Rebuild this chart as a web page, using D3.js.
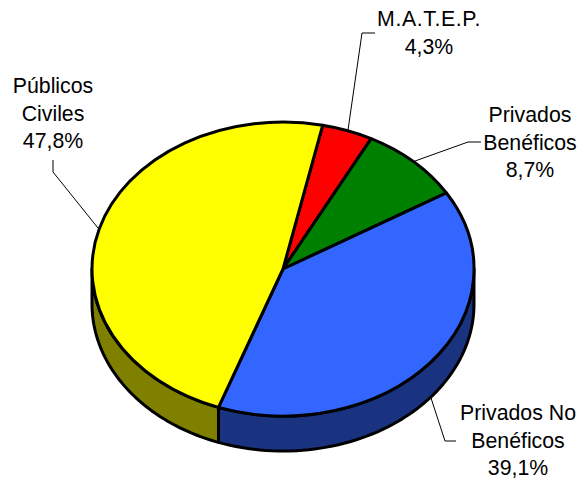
<!DOCTYPE html>
<html><head><meta charset="utf-8">
<script src="https://cdn.jsdelivr.net/npm/d3@7/dist/d3.min.js"></script>
<style>html,body{margin:0;padding:0;background:#fff}svg{display:block}text{font-family:"Liberation Sans",Arial,sans-serif;font-size:21.3px;fill:#000;text-anchor:middle}</style>
</head><body><svg id="c" width="585" height="483"></svg>
<script>
const categories = ["M.A.T.E.P.", "Privados Benéficos", "Privados No Benéficos", "Públicos Civiles"];
const values = [4.3, 8.7, 39.1, 47.8];
const topColors = ["#FF0000", "#008000", "#3366FF", "#FFFF00"];
const sideColors = ["#800000", "#004000", "#1A3380", "#808000"];
const labelLines = [["M.A.T.E.P.", "4,3%"], ["Privados", "Benéficos", "8,7%"], ["Privados No", "Benéficos", "39,1%"], ["Públicos", "Civiles", "47,8%"]];
const labelX = [429, 530, 518, 53];
const labelY = [26, 122, 420, 93];
const leaders = [
  [[348,130],[362,33],[375,33]],
  [[415,161],[468,142],[481,142]],
  [[431,398],[445,441],[456,441]],
  [[98,228],[53,172],[53,160]]
];

const cx = 283, cy = 269, rx = 191, ry = 147, depth = 35;
const startAngle = 12 * Math.PI / 180;
const svg = d3.select("#c");
const arcs = d3.pie().sort(null).value(d => d)
  .startAngle(startAngle).endAngle(startAngle + 2 * Math.PI)(values);
const px = a => cx + rx * Math.sin(a);
const py = a => cy - ry * Math.cos(a);

// side wall: the front half of the rim, from the right edge to the left edge
const line = d3.line();
arcs.forEach((d, i) => {
  const lo = Math.max(d.startAngle, Math.PI / 2), hi = Math.min(d.endAngle, 3 * Math.PI / 2);
  if (hi <= lo) return;
  const ts = d3.range(0, 61).map(k => lo + (hi - lo) * k / 60);
  const top = ts.map(a => [px(a), py(a)]);
  const bot = ts.slice().reverse().map(a => [px(a), py(a) + depth]);
  svg.append("path").attr("d", line(top.concat(bot)) + "Z")
    .attr("fill", sideColors[i]).attr("stroke", "#000").attr("stroke-width", 3).attr("stroke-linejoin", "round");
});

// top ellipse
const arc = d3.arc().innerRadius(0).outerRadius(rx);
const g = svg.append("g").attr("transform", `translate(${cx},${cy}) scale(1,${ry / rx})`);
g.selectAll("path").data(arcs).join("path")
  .attr("d", arc)
  .attr("fill", (d, i) => topColors[i])
  .attr("stroke", "#000").attr("stroke-width", 3).attr("stroke-linejoin", "round")
  .attr("vector-effect", "non-scaling-stroke");

// leaders
const ll = d3.line();
svg.selectAll("path.leader").data(leaders).join("path").attr("class", "leader")
  .attr("d", d => ll(d)).attr("fill", "none").attr("stroke", "#000").attr("stroke-width", 1);

// labels
labelLines.forEach((rows, i) => {
  const t = svg.append("text").attr("x", labelX[i]).attr("y", labelY[i]);
  rows.forEach((s, j) => t.append("tspan").attr("x", labelX[i]).attr("dy", j ? 27.5 : 0)
    .attr("letter-spacing", s === "M.A.T.E.P." ? 0.6 : null).text(s));
});
</script></body></html>
